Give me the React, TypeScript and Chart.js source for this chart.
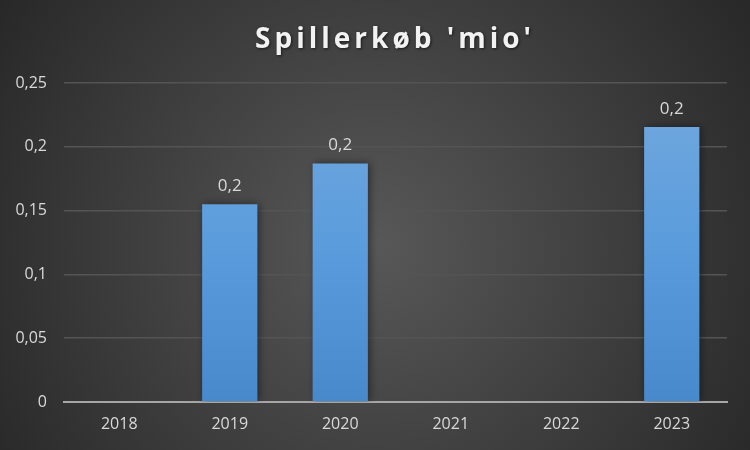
import React, { useEffect, useRef } from "react";
import { Chart, registerables } from "chart.js";

Chart.register(...registerables);

const categories = ["2018", "2019", "2020", "2021", "2022", "2023"];
const values: (number | null)[] = [0, 0.155, 0.187, 0, 0, 0.2155];
const labelShown = [false, true, true, false, false, true];
const yTicks = [0, 0.05, 0.1, 0.15, 0.2, 0.25];
const titleText = "Spillerkøb 'mio'";

const FONT = "'Open Sans', 'Noto Sans', sans-serif";

const bgPlugin = {
  id: "bgPlugin",
  beforeDraw(chart: any) {
    const { ctx, width, height } = chart;
    ctx.save();
    const g = ctx.createRadialGradient(width / 2, height / 2 + 20, 0, width / 2, height / 2 + 20, width * 0.62);
    g.addColorStop(0, "#585858");
    g.addColorStop(1, "#262626");
    ctx.fillStyle = g;
    ctx.fillRect(0, 0, width, height);
    ctx.restore();
  },
  beforeDatasetsDraw(chart: any) {
    const { ctx } = chart;
    ctx.save();
    ctx.shadowColor = "rgba(0,0,0,0.45)";
    ctx.shadowBlur = 8;
    ctx.shadowOffsetX = 2;
    ctx.shadowOffsetY = 0;
  },
  afterDatasetsDraw(chart: any) {
    const { ctx } = chart;
    ctx.restore();
    const meta = chart.getDatasetMeta(0);
    ctx.save();
    ctx.font = `17px ${FONT}`;
    ctx.fillStyle = "#d9d9d9";
    ctx.textAlign = "center";
    ctx.textBaseline = "alphabetic";
    meta.data.forEach((bar: any, i: number) => {
      if (!labelShown[i]) return;
      const v = values[i] as number;
      const txt = (Math.round(v * 10) / 10).toString().replace(".", ",");
      ctx.fillText(txt, bar.x, bar.y - 13);
    });
    // title
    ctx.font = `bold 28px ${FONT}`;
    (ctx as any).letterSpacing = "4px";
    ctx.textBaseline = "middle";
    ctx.shadowColor = "rgba(0,0,0,0.6)";
    ctx.shadowBlur = 3;
    ctx.shadowOffsetX = 1;
    ctx.shadowOffsetY = 1;
    ctx.fillStyle = "#f2f2f2";
    ctx.fillText(titleText, chart.width / 2 + 20, 40);
    ctx.restore();
  },
};

export default function App() {
  const ref = useRef<HTMLCanvasElement | null>(null);
  useEffect(() => {
    document.body.style.margin = "0";
    const canvas = ref.current!;
    const chart = new Chart(canvas, {
      type: "bar",
      data: {
        labels: categories,
        datasets: [
          {
            data: values,
            backgroundColor: (c: any) => {
              const area = c.chart.chartArea;
              if (!area) return "#5b9bd5";
              const g = c.chart.ctx.createLinearGradient(0, area.top, 0, area.bottom);
              g.addColorStop(0, "#74a9de");
              g.addColorStop(0.5, "#5a9cdc");
              g.addColorStop(1, "#4789cb");
              return g;
            },
            borderWidth: 0,
            barPercentage: 0.5,
            categoryPercentage: 1,
          },
        ],
      },
      options: {
        responsive: false,
        animation: false,
        layout: { padding: { top: 83, right: 23, left: 0, bottom: 0 } },
        plugins: { legend: { display: false }, tooltip: { enabled: false }, title: { display: false } },
        scales: {
          x: {
            grid: { display: false, drawTicks: false },
            border: { display: true, color: "#a6a6a6", width: 2 },
            ticks: { color: "#d9d9d9", font: { family: FONT, size: 16 }, padding: 13 },
            afterFit: (s: any) => { s.height = 48; },
          },
          y: {
            min: 0,
            max: 0.25,
            afterBuildTicks: (s: any) => { s.ticks = yTicks.map((v) => ({ value: v })); },
            grid: {
              color: (c: any) => (c.tick && c.tick.value === 0 ? "rgba(0,0,0,0)" : "#545454"),
              lineWidth: 1.5,
              drawTicks: false,
            },
            border: { display: false },
            ticks: {
              color: "#d9d9d9",
              font: { family: FONT, size: 16 },
              padding: 17,
              callback: (v: any) => String(Math.round(Number(v) * 100) / 100).replace(".", ","),
            },
            afterFit: (s: any) => { s.width = 64; },
          },
        },
      },
      plugins: [bgPlugin],
    });
    return () => chart.destroy();
  }, []);
  return (
    <div style={{ position: "fixed", left: 0, top: 0, width: 750, height: 450 }}>
      <canvas ref={ref} width={750} height={450} style={{ width: 750, height: 450 }} />
    </div>
  );
}
